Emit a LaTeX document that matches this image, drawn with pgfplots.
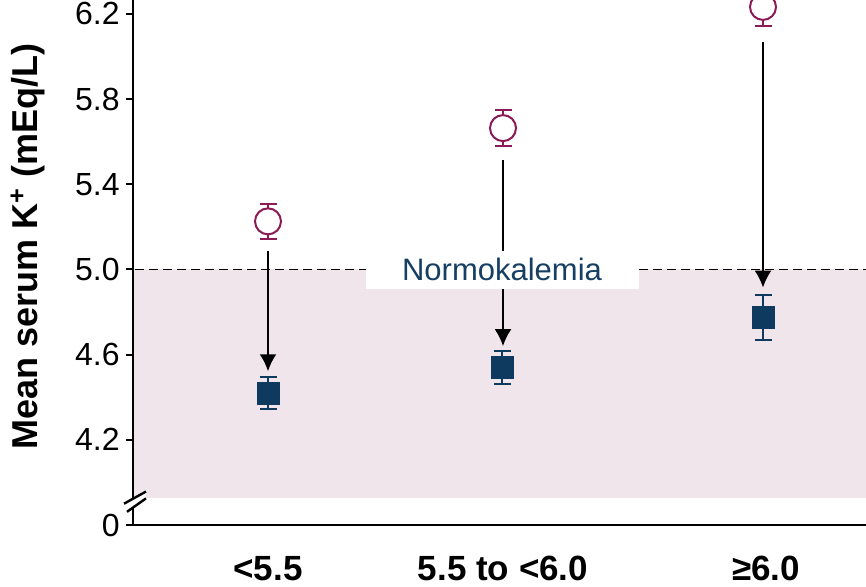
\documentclass[border=0pt]{standalone}
\usepackage{fontspec}
\setmainfont{Liberation Sans}
\usepackage{pgfplots}
\pgfplotsset{compat=1.18}
\usetikzlibrary{arrows.meta}
\definecolor{cpurple}{HTML}{8C1A55}
\definecolor{cnavy}{HTML}{0F3A5F}
\definecolor{ctext}{HTML}{163F63}
\definecolor{cshade}{HTML}{F1E5EC}
\begin{document}
\begin{tikzpicture}
\begin{axis}[
  scale only axis, width=366.5pt, height=262.5pt,
  xmin=133, xmax=866, ymin=3.8, ymax=6.2656,
  axis lines*=left,
  axis line style={line width=1.2pt},
  clip=false,
  xtick={268,503,766},
  xticklabels={<5.5, 5.5 to <6.0, ≥6.0},
  xtick style={draw=none},
  xticklabel style={font=\fontsize{17.5}{20}\selectfont\bfseries, anchor=base, yshift=-24.5pt},
  ytick={3.8,4.2,4.6,5.0,5.4,5.8,6.2},
  yticklabels={0,4.2,4.6,5.0,5.4,5.8,6.2},
  tick align=outside,
  major tick length=3.5pt,
  ytick style={line width=1pt, black},
  yticklabel style={font=\fontsize{16}{18}\selectfont, inner sep=0pt, anchor=east, xshift=-3pt},
  ylabel={Mean serum K\textsuperscript{+} (mEq/L)},
  ylabel style={font=\fontsize{18}{20}\selectfont\bfseries, at={(axis description cs:-0.1432,0.53)}, anchor=center},
]
\fill[cshade] (axis cs:134.5,3.926) rectangle (axis cs:866,5.0);
\draw[dash pattern=on 4.5pt off 2.5pt, line width=0.9pt] (axis cs:135,5) -- (axis cs:866,5);
\draw[line width=1pt,-{Latex[length=8.5pt,width=8.5pt]}] (axis cs:268,5.086) -- (axis cs:268,4.522);
\draw[line width=1pt,-{Latex[length=8.5pt,width=8.5pt]}] (axis cs:503,5.512) -- (axis cs:503,4.640);
\draw[line width=1pt,-{Latex[length=8.5pt,width=8.5pt]}] (axis cs:763,6.066) -- (axis cs:763,4.915);
\fill[white] (axis cs:366,4.906) rectangle (axis cs:639,5.086);
\node[text=ctext, font=\fontsize{15.5}{17}\selectfont] at (axis cs:502,5.0) {Normokalemia};
\addplot[only marks, mark=*, mark size=6.5pt, color=cpurple, line width=1pt,
  mark options={fill=white, draw=cpurple},
  error bars/.cd, y dir=both, y explicit,
  error bar style={line width=1pt, color=cpurple},
  error mark options={rotate=90, line width=1pt, mark size=4.25pt, color=cpurple}]
  coordinates {(268,5.226) +- (0,0.082) (503,5.664) +- (0,0.083) (763,6.233) +- (0,0.09)};
\addplot[only marks, mark=square*, mark size=5.25pt, color=cnavy, line width=1pt,
  error bars/.cd, y dir=both, y explicit,
  error bar style={line width=1pt, color=cnavy},
  error mark options={rotate=90, line width=1pt, mark size=4.25pt, color=cnavy}]
  coordinates {(268,4.419) +- (0,0.075) (502,4.538) +- (0,0.078) (763,4.775) +- (0,0.104)};
\coordinate (bl) at (rel axis cs:0,0);
\coordinate (tr) at (rel axis cs:1,1);
\coordinate (s1a) at (axis cs:124,3.900);
\coordinate (s1b) at (axis cs:146,3.957);
\coordinate (s2a) at (axis cs:127,3.862);
\coordinate (s2b) at (axis cs:146,3.925);
\end{axis}
\fill[white] (s2a) -- (s2b) -- (s1b) -- (s1a) -- cycle;
\draw[line width=1.2pt] (s1a) -- (s1b);
\draw[line width=1.2pt] (s2a) -- (s2b);
\pgfresetboundingbox
\path (bl) ++(-66.5pt,-31pt) rectangle (tr);
\end{tikzpicture}
\end{document}
